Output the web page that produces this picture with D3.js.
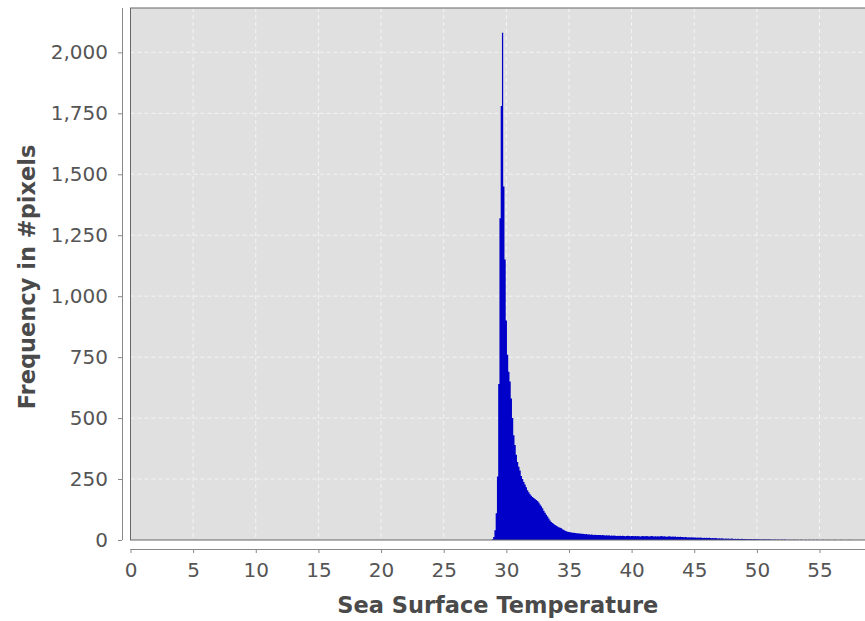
<!DOCTYPE html>
<html>
<head>
<meta charset="utf-8">
<script src="https://cdn.jsdelivr.net/npm/d3@7"></script>
<style>
  body { margin: 0; background: #fff; }
  text { font-family: "DejaVu Sans", sans-serif; }
</style>
</head>
<body>
<div id="chart"></div>
<script>
// histogram bins: start of first bin and bin width (degrees)
var binStart = 28.75, binWidth = 0.1;

// counts around the peak, 28.75 .. 36.05
var coreCounts = [
  0, 3, 12, 40, 110, 260, 640, 1320, 1780, 2080,
  1450, 1150, 900, 760, 690, 650, 580, 500, 430, 390,
  350, 320, 300, 285, 262, 250, 238, 228, 216, 204,
  196, 188, 182, 176, 172, 168, 164, 160, 154, 146,
  138, 130, 120, 112, 104, 96, 88, 80, 74, 70,
  66, 62, 58, 55, 52, 50, 48, 44, 41, 38,
  36, 34, 33, 32, 31, 30, 30, 29, 28, 28,
  27, 27, 26
];

// long warm tail, 36.05 .. 58.05
var tailCounts = [
  26, 25, 24, 25, 23, 24, 22, 23, 22, 21,
  22, 21, 20, 21, 20, 19, 20, 19, 18, 19,
  18, 19, 17, 18, 17, 18, 17, 16, 17, 16,
  17, 16, 17, 16, 15, 16, 17, 16, 15, 16,
  16, 15, 16, 15, 16, 15, 14, 15, 16, 15,
  15, 16, 15, 14, 15, 16, 15, 14, 15, 14,
  15, 14, 15, 16, 14, 15, 14, 13, 14, 15,
  14, 13, 14, 13, 14, 12, 13, 12, 13, 12,
  12, 11, 12, 11, 10, 11, 10, 11, 10, 10,
  10, 9, 10, 9, 10, 9, 8, 9, 8, 9,
  8, 9, 8, 7, 8, 7, 8, 7, 6, 7,
  6, 7, 6, 5, 6, 5, 6, 5, 5, 6,
  5, 4, 5, 4, 5, 4, 4, 5, 4, 4,
  4, 3, 4, 3, 4, 3, 3, 4, 3, 3,
  3, 3, 2, 3, 2, 3, 2, 2, 3, 2,
  2, 2, 1, 2, 2, 1, 2, 1, 1, 2,
  1, 2, 1, 1, 0, 1, 1, 0, 1, 1,
  1, 0, 1, 0, 1, 1, 0, 0, 1, 0,
  0, 1, 0, 0, 1, 0, 0, 1, 0, 0,
  0, 0, 1, 0, 0, 0, 1, 0, 0, 0,
  0, 1, 0, 0, 0, 0, 1, 0, 0, 0,
  0, 0, 0, 1, 0, 0, 0, 0, 0, 0
];

var xTicks = [0, 5, 10, 15, 20, 25, 30, 35, 40, 45, 50, 55];
var yTicks = [0, 250, 500, 750, 1000, 1250, 1500, 1750, 2000];

var xMax = 58.63, yMax = 2182;

var bins = coreCounts.concat(tailCounts).map(function(c, i) {
  return { x0: binStart + i * binWidth, x1: binStart + (i + 1) * binWidth, count: c };
});

var width = 865, height = 621;
var plot = { left: 130.5, right: 865, top: 8, bottom: 540 };

var svg = d3.select("#chart").append("svg")
  .attr("width", width)
  .attr("height", height);

var x = d3.scaleLinear().domain([0, xMax]).range([plot.left, plot.right]);
var y = d3.scaleLinear().domain([0, yMax]).range([plot.bottom, plot.top]);

// plot background
svg.append("rect")
  .attr("x", plot.left).attr("y", plot.top)
  .attr("width", plot.right - plot.left)
  .attr("height", plot.bottom - plot.top)
  .attr("fill", "#e0e0e0");

// grid lines
svg.append("g").selectAll("line")
  .data(xTicks.filter(function(d) { return d > 0; }))
  .enter().append("line")
    .attr("x1", function(d) { return x(d); })
    .attr("x2", function(d) { return x(d); })
    .attr("y1", plot.top).attr("y2", plot.bottom)
    .attr("stroke", "#f4f4f4").attr("stroke-width", 1)
    .attr("stroke-dasharray", "4,3");

svg.append("g").selectAll("line")
  .data(yTicks.filter(function(d) { return d > 0; }))
  .enter().append("line")
    .attr("x1", plot.left).attr("x2", plot.right)
    .attr("y1", function(d) { return y(d); })
    .attr("y2", function(d) { return y(d); })
    .attr("stroke", "#f4f4f4").attr("stroke-width", 1)
    .attr("stroke-dasharray", "4,3");

// histogram bars, drawn as one stepped shape so neighbouring bins leave no seams
var steps = bins.concat([{ x0: bins[bins.length - 1].x1, count: 0 }]);
var histArea = d3.area()
  .curve(d3.curveStepAfter)
  .x(function(d) { return x(d.x0); })
  .y0(y(0))
  .y1(function(d) { return y(d.count); });

svg.append("path")
  .datum(steps)
  .attr("d", histArea)
  .attr("fill", "#0000c8");

// plot outline
svg.append("rect")
  .attr("x", plot.left).attr("y", plot.top)
  .attr("width", plot.right - plot.left + 2)
  .attr("height", plot.bottom - plot.top)
  .attr("fill", "none")
  .attr("stroke", "#666").attr("stroke-width", 1);

// y axis, set off to the left of the plot
var yAxis = svg.append("g")
  .attr("transform", "translate(122,0)")
  .call(d3.axisLeft(y).tickValues(yTicks).tickSize(4).tickPadding(10)
    .tickFormat(d3.format(",")));
yAxis.select(".domain").attr("stroke", "#888").attr("d", "M0.5," + plot.top + "V" + plot.bottom);
yAxis.selectAll(".tick line").attr("stroke", "#888");
yAxis.selectAll(".tick text")
  .attr("fill", "#555").attr("font-size", 20)
  .attr("font-family", "DejaVu Sans, sans-serif");

// x axis, set off below the plot
var xAxis = svg.append("g")
  .attr("transform", "translate(0,549)")
  .call(d3.axisBottom(x).tickValues(xTicks).tickSize(4).tickPadding(10));
xAxis.select(".domain").attr("stroke", "#888").attr("d", "M" + plot.left + ",0.5H" + plot.right);
xAxis.selectAll(".tick line").attr("stroke", "#888");
xAxis.selectAll(".tick text")
  .attr("fill", "#555").attr("font-size", 20)
  .attr("font-family", "DejaVu Sans, sans-serif");

// axis titles
svg.append("text")
  .attr("x", (plot.left + plot.right) / 2)
  .attr("y", 613)
  .attr("text-anchor", "middle")
  .attr("font-size", 22.5)
  .attr("font-weight", "bold")
  .attr("fill", "#4a4a4a")
  .text("Sea Surface Temperature");

svg.append("text")
  .attr("transform", "translate(35," + ((plot.top + plot.bottom) / 2 + 3) + ") rotate(-90)")
  .attr("text-anchor", "middle")
  .attr("font-size", 22.5)
  .attr("font-weight", "bold")
  .attr("fill", "#4a4a4a")
  .text("Frequency in #pixels");
</script>
</body>
</html>
